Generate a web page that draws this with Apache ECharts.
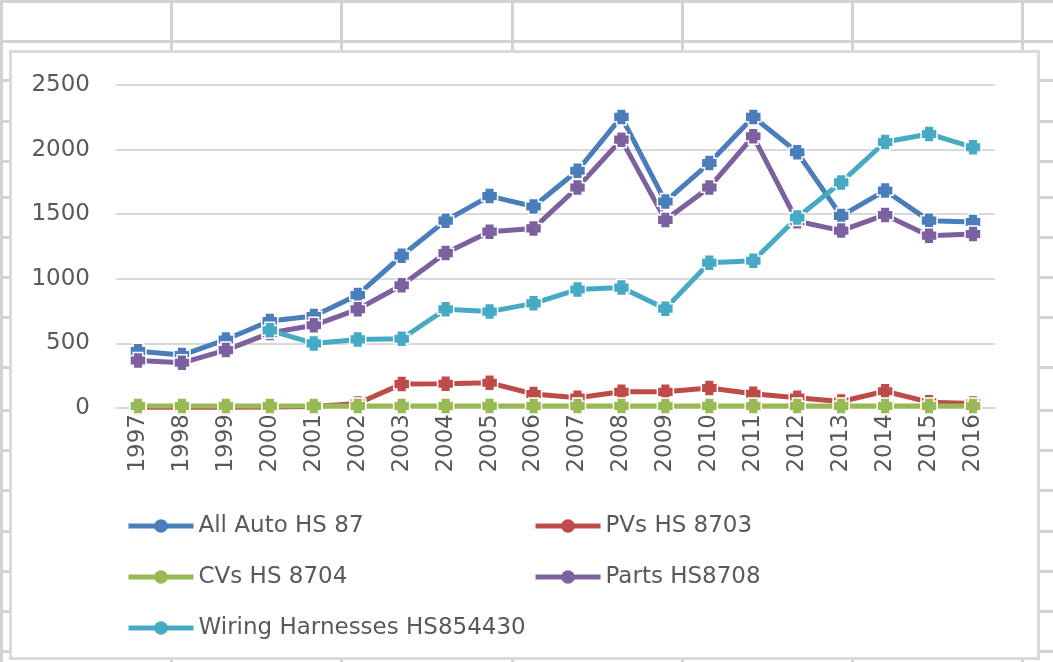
<!DOCTYPE html>
<html>
<head>
<meta charset="utf-8">
<script src="https://cdn.jsdelivr.net/npm/echarts@6.0.0/dist/echarts.min.js"></script>
<style>
    html, body {margin: 0; padding: 0; background: #fff; overflow: hidden;}
    #sheet {position: absolute; left: 0; top: 0; width: 1053px; height: 662px;}
    .col {position: absolute; top: 0; width: 3px; height: 662px; background: #d2d2d2;}
    .row {position: absolute; left: 0; width: 1053px; height: 3px; background: #d2d2d2;}
    #frame {position: absolute; left: 9px; top: 50px; width: 1031px; height: 610px;
        box-sizing: border-box; border: 3px solid #dadada; background: #fff;}
    #chartContainer {position: absolute; left: 0; top: 0; width: 1053px; height: 662px;}
</style>
</head>
<body>
<div id="sheet"></div>
<div id="frame"></div>
<div id="chartContainer"></div>
<script>
    // values
    const years = ['1997', '1998', '1999', '2000', '2001', '2002', '2003', '2004', '2005', '2006',
        '2007', '2008', '2009', '2010', '2011', '2012', '2013', '2014', '2015', '2016'];
    const allAuto = [440, 410, 530, 673, 712, 875, 1178, 1450, 1640, 1560,
        1836, 2253, 1598, 1896, 2253, 1979, 1487, 1683, 1450, 1440];
    const pvs = [5, 5, 5, 8, 12, 35, 185, 188, 195, 108,
        80, 125, 125, 155, 110, 80, 50, 130, 45, 35];
    const cvs = [15, 15, 15, 15, 15, 15, 15, 15, 15, 15,
        15, 15, 15, 15, 15, 15, 15, 15, 15, 15];
    const parts = [368, 350, 448, 580, 640, 764, 950, 1199, 1365, 1390,
        1707, 2077, 1456, 1707, 2103, 1445, 1373, 1494, 1334, 1347];
    const wiring = [null, null, null, 601, 500, 531, 536, 764, 746, 810,
        917, 932, 769, 1124, 1140, 1474, 1746, 2059, 2121, 2018];
    const yTicks = [0, 500, 1000, 1500, 2000, 2500];

    // spreadsheet cells behind the chart
    const sheetCols = [0, 170, 340, 511, 681, 851, 1021];
    const sheetRows = [0, 40, 79, 120, 160, 196, 236, 276, 316, 366, 409, 449, 489, 530, 570, 610, 650];
    let sheet = document.getElementById('sheet');
    sheetCols.forEach(function (x) {
        let d = document.createElement('div');
        d.className = 'col';
        d.style.left = x + 'px';
        sheet.appendChild(d);
    });
    sheetRows.forEach(function (y) {
        let d = document.createElement('div');
        d.className = 'row';
        d.style.top = y + 'px';
        sheet.appendChild(d);
    });

    const FONT = 'DejaVu Sans';
    const TEXT = '#595959';
    // fat "plus" marker like the excel one
    const CROSS = 'path://M2,0H8V2H10V8H8V10H2V8H0V2H2Z';

    const mkSeries = (name, values, color) => ({
        name: name,
        type: 'line',
        symbol: 'circle',
        symbolSize: 16,
        data: values.map(v => ({value: v, symbol: CROSS})),
        lineStyle: {color: color, width: 5},
        itemStyle: {color: color, borderColor: '#fff', borderWidth: 1.5},
        emphasis: {disabled: true},
        animation: false
    });

    let dom = document.getElementById('chartContainer');
    let myChart = echarts.init(dom, null, {
        renderer: 'canvas',
        useDirtyRect: false
    });

    const legendBase = {
        orient: 'vertical',
        itemWidth: 65,
        itemHeight: 17,
        itemGap: 27,
        textStyle: {fontFamily: FONT, fontSize: 23, color: TEXT, lineHeight: 24},
        lineStyle: {width: 5},
        itemStyle: {borderWidth: 0},
        selectedMode: false
    };

    let option = {
        backgroundColor: 'transparent',
        grid: {left: 116, right: 58, top: 85, bottom: 254},
        legend: [
            Object.assign({}, legendBase, {
                left: 121, top: 509,
                data: ['All Auto HS 87', 'CVs HS 8704', 'Wiring Harnesses HS854430']
            }),
            Object.assign({}, legendBase, {
                left: 528, top: 509,
                data: ['PVs HS 8703', 'Parts HS8708']
            })
        ],
        xAxis: {
            type: 'category',
            data: years,
            boundaryGap: true,
            axisLine: {show: true, lineStyle: {color: '#d9d9d9', width: 2}},
            axisTick: {show: false},
            axisLabel: {
                rotate: 90,
                margin: 6,
                interval: 0,
                fontFamily: FONT,
                fontSize: 23,
                color: TEXT
            }
        },
        yAxis: {
            type: 'value',
            min: yTicks[0],
            max: yTicks[yTicks.length - 1],
            interval: 500,
            axisLine: {show: false},
            axisTick: {show: false},
            splitLine: {lineStyle: {color: '#d9d9d9', width: 2}},
            axisLabel: {
                margin: 26,
                fontFamily: FONT,
                fontSize: 23,
                color: TEXT,
                formatter: v => String(v)
            }
        },
        series: [
            mkSeries('All Auto HS 87', allAuto, '#4a7ebb'),
            mkSeries('PVs HS 8703', pvs, '#be4b48'),
            mkSeries('CVs HS 8704', cvs, '#98b954'),
            mkSeries('Parts HS8708', parts, '#7d60a0'),
            mkSeries('Wiring Harnesses HS854430', wiring, '#46aac5')
        ]
    };

    myChart.setOption(option);
</script>
</body>
</html>
